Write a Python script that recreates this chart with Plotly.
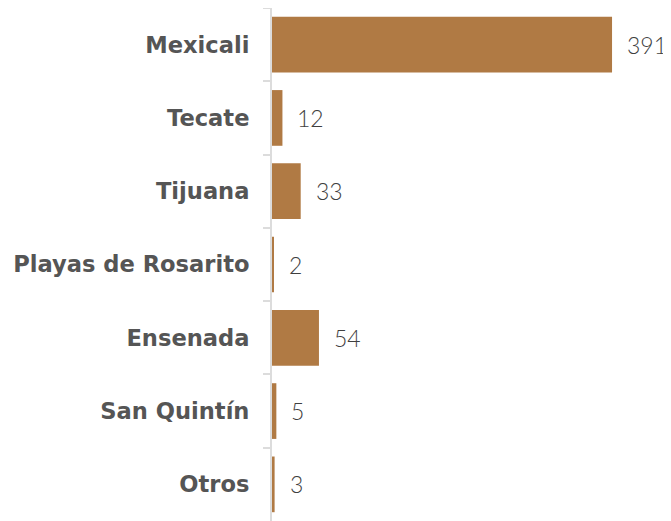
import plotly.graph_objects as go

categories = ["Mexicali", "Tecate", "Tijuana", "Playas de Rosarito", "Ensenada", "San Quintín", "Otros"]
values = [391, 12, 33, 2, 54, 5, 3]

bar_color = "#B07A44"

fig = go.Figure(go.Bar(
    x=values, y=categories, orientation="h",
    marker=dict(color=bar_color, line=dict(width=0)),
    hoverinfo="skip",
))

for c, v in zip(categories, values):
    fig.add_annotation(x=v, y=c, text=str(v), showarrow=False, xanchor="left",
                       xshift=13, font=dict(family="Lato", size=23, color="#3F3F3F", weight=300))

# page body has an 8px default margin, so the figure is sized 8px smaller
fig.update_layout(
    width=663, height=513,
    margin=dict(l=264, r=0, t=0, b=0, autoexpand=False),
    paper_bgcolor="white", plot_bgcolor="white",
    bargap=0.24,
    showlegend=False,
    xaxis=dict(range=[0, 458.8], visible=False, fixedrange=True, automargin=False),
    yaxis=dict(autorange="reversed", showline=True, linecolor="#DCDCDC", linewidth=2,
               ticks="outside", tickson="boundaries", ticklen=7, tickcolor="#DCDCDC", tickwidth=2,
               ticklabelstandoff=16, automargin=False,
               tickfont=dict(family="DejaVu Sans", size=22.6, color="#555555", weight="bold"),
               showgrid=False, zeroline=False),
)

fig.write_html("out.html")
